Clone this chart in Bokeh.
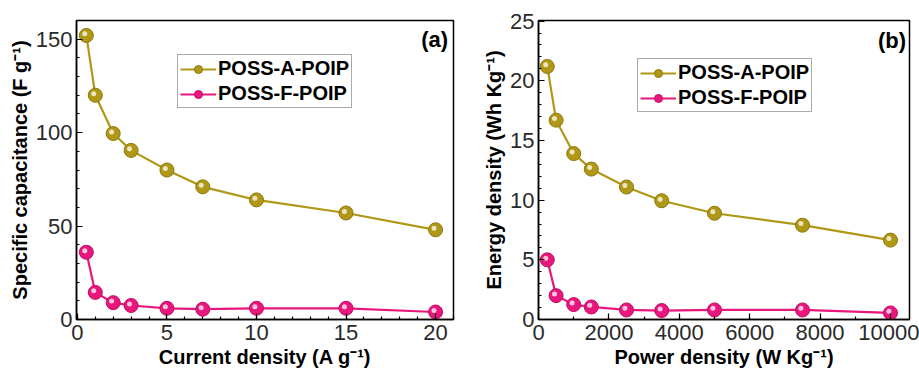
from bokeh.plotting import figure
from bokeh.layouts import row
from bokeh.models import Range1d, SingleIntervalTicker, Legend, LegendItem, Label, ColumnDataSource
from bokeh.transform import dodge
from bokeh.embed import file_html
from bokeh.resources import INLINE

# Panel (a): specific capacitance vs current density
current_density = [0.5, 1, 2, 3, 5, 7, 10, 15, 20]
cap_a_poip = [152, 120, 99.5, 90.5, 80, 71, 64, 57, 48]
cap_f_poip = [36, 14.5, 9, 7.5, 6, 5.5, 6, 6, 4]

# Panel (b): Ragone-style energy vs power density
power_density = [250, 500, 1000, 1500, 2500, 3500, 5000, 7500, 10000]
energy_a_poip = [21.2, 16.7, 13.9, 12.6, 11.1, 9.95, 8.9, 7.9, 6.65]
energy_f_poip = [5.0, 2.0, 1.25, 1.05, 0.8, 0.75, 0.8, 0.8, 0.55]

series_names = ["POSS-A-POIP", "POSS-F-POIP"]
GOLD = "#B09816"
GOLD_EDGE = "#8C780C"
PINK = "#E8177D"
PINK_EDGE = "#C20C63"
FONT = "Liberation Sans"


def make_panel(xs, ys_list, width, height, borders, xr, yr, x_tick, x_minor,
               y_tick, y_minor, xlabel, ylabel, tag, tag_pos, legend_loc):
    left, right, top, bottom = borders
    p = figure(width=width, height=height, output_backend="svg",
               toolbar_location=None, x_range=Range1d(*xr), y_range=Range1d(*yr),
               min_border_left=left, min_border_right=right,
               min_border_top=top, min_border_bottom=bottom)
    p.grid.visible = False
    p.outline_line_color = "black"
    p.outline_line_width = 1.5
    p.background_fill_color = "white"
    p.border_fill_color = "white"

    p.xaxis.ticker = SingleIntervalTicker(interval=x_tick, num_minor_ticks=x_minor)
    p.yaxis.ticker = SingleIntervalTicker(interval=y_tick, num_minor_ticks=y_minor)
    for ax in (p.xaxis[0], p.yaxis[0]):
        ax.axis_line_color = "black"
        ax.axis_line_width = 1.5
        ax.major_tick_in = 6
        ax.major_tick_out = 0
        ax.minor_tick_in = 3
        ax.minor_tick_out = 0
        ax.major_tick_line_color = "black"
        ax.minor_tick_line_color = "black"
        ax.major_tick_line_width = 1.2
        ax.minor_tick_line_width = 1.2
        ax.major_label_text_font = FONT
        ax.major_label_text_font_size = "22px"
        ax.major_label_text_color = "#2a2a2a"
        ax.axis_label_text_font = FONT
        ax.axis_label_text_font_size = "20px"
        ax.axis_label_text_font_style = "bold"
        ax.axis_label_text_color = "black"
    p.xaxis.major_label_standoff = 5
    p.yaxis.major_label_standoff = 4
    p.xaxis.axis_label_standoff = 3
    p.yaxis.axis_label_standoff = 2
    p.xaxis.axis_label = xlabel
    p.yaxis.axis_label = ylabel

    xspan = xr[1] - xr[0]
    yspan = yr[1] - yr[0]
    fw = width - left - right
    fh = height - top - bottom
    dx = -1.6 * xspan / fw
    dy = 1.6 * yspan / fh

    items = []
    styles = [(GOLD, GOLD_EDGE), (PINK, PINK_EDGE)]
    for name, ys, (col, edge) in zip(series_names, ys_list, styles):
        src = ColumnDataSource(data=dict(x=xs, y=ys))
        ln = p.line("x", "y", source=src, line_color=col, line_width=2.2)
        mk = p.scatter("x", "y", source=src, size=14, fill_color=col,
                       line_color=edge, line_width=1)
        p.scatter(dodge("x", dx, range=p.x_range), dodge("y", dy, range=p.y_range),
                  source=src, size=5, fill_color="white", fill_alpha=0.75,
                  line_color=None)
        items.append(LegendItem(label=name, renderers=[ln, mk]))

    leg = Legend(items=items, location=legend_loc)
    leg.label_text_font = FONT
    leg.label_text_font_size = "20px"
    leg.label_text_font_style = "bold"
    leg.label_text_color = "black"
    leg.glyph_width = 36
    leg.glyph_height = 20
    leg.label_height = 20
    leg.label_standoff = 2
    leg.padding = 2
    leg.spacing = 2
    leg.margin = 0
    leg.border_line_color = "#555555"
    leg.border_line_width = 1.2
    leg.background_fill_color = "white"
    leg.background_fill_alpha = 1
    p.add_layout(leg)

    p.add_layout(Label(x=tag_pos[0], y=tag_pos[1], text=tag, text_align="right",
                       text_baseline="middle", text_font=FONT, text_font_size="22px",
                       text_font_style="bold", text_color="black"))
    return p


p1 = make_panel(current_density, [cap_a_poip, cap_f_poip], 460, 371,
                (76, 7, 16, 52), (-0.05, 21.0), (0, 160), 5, 5, 50, 5,
                "Current density (A g\u207b\u00b9)", "Specific capacitance (F g\u207b\u00b9)",
                "(a)", (20.7, 150), (101, 211))
p2 = make_panel(power_density, [energy_a_poip, energy_f_poip], 459, 371,
                (78, 10, 20, 52), (0, 10540), (0, 25.05), 2000, 2, 5, 5,
                "Power density (W Kg\u207b\u00b9)", "Energy density (Wh Kg\u207b\u00b9)",
                "(b)", (10440, 23.4), (99, 207))

layout = row(p1, p2)
open("out.html", "w").write(file_html(layout, INLINE))
